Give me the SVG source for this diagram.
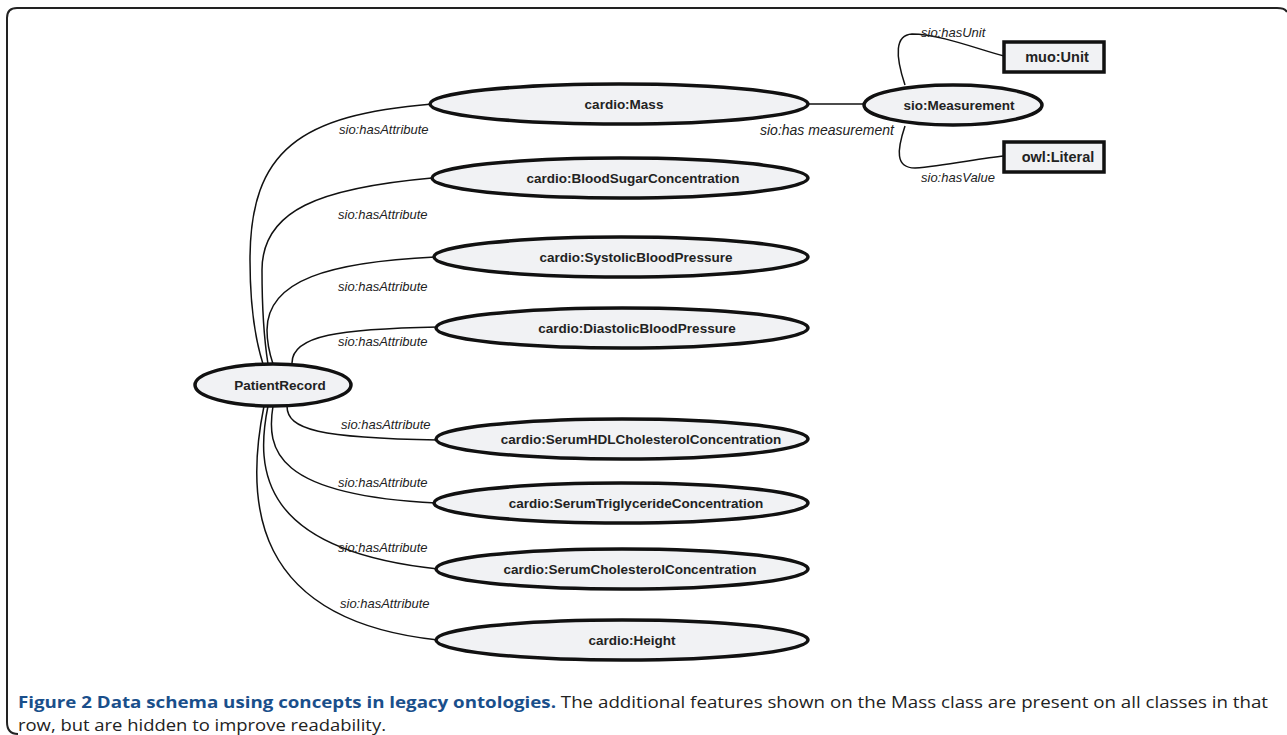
<svg xmlns="http://www.w3.org/2000/svg" width="1287" height="735" viewBox="0 0 1287 735">
<style>
.node ellipse{fill:#f1f2f4;stroke:#111;stroke-width:3.5}
.node rect{fill:#f1f2f4;stroke:#111;stroke-width:3.5}
.nl{font-family:"Liberation Sans",Arial,sans-serif;font-weight:bold;font-size:13.5px;fill:#222;text-anchor:middle;dominant-baseline:central}
.bl{font-family:"Liberation Sans",Arial,sans-serif;font-weight:bold;font-size:14.5px;fill:#222;text-anchor:middle;dominant-baseline:central}
.el{font-family:"Liberation Sans",Arial,sans-serif;font-style:italic;font-size:13px;fill:#222}
#edges path{fill:none;stroke:#111;stroke-width:1.5}
.cap{font-family:"Open Sans","Noto Sans",sans-serif;font-size:16px;fill:#222}
</style>
<rect width="1287" height="735" fill="#fff"/>
<path d="M18,734 Q7,734 7,722 L7,18 Q7,8 17,8 L1277,8 Q1285,8 1287,12" fill="none" stroke="#222" stroke-width="2"/>

<g id="edges">
<path d="M432,104 C300,115 250,150 250,260 C250,310 257,345 263,364"/>
<path d="M432,178 C320,188 262,210 262,270 C262,320 265,345 268,364"/>
<path d="M435,257 C330,262 267,280 267,330 C267,345 270,355 273,364"/>
<path d="M438,327 C340,329 292,335 292,363"/>
<path d="M287,406 C287,430 320,438 438,440"/>
<path d="M273,406 C266,450 275,495 436,503"/>
<path d="M268,406 C255,470 260,550 438,569"/>
<path d="M264,406 C245,500 250,620 438,640"/>
<path d="M808,104 L864,104"/>
<path d="M905,85 C895,55 895,35 912,34 C940,34 980,50 1004,56"/>
<path d="M905,126 C897,150 895,168 915,168 C945,166 980,158 1004,156"/>
</g>

<g id="edge-labels">
<text class="el" x="339" y="134">sio:hasAttribute</text>
<text class="el" x="338" y="219">sio:hasAttribute</text>
<text class="el" x="338" y="291">sio:hasAttribute</text>
<text class="el" x="338" y="346">sio:hasAttribute</text>
<text class="el" x="341" y="429">sio:hasAttribute</text>
<text class="el" x="338" y="487">sio:hasAttribute</text>
<text class="el" x="338" y="552">sio:hasAttribute</text>
<text class="el" x="340" y="608">sio:hasAttribute</text>
<text class="el" x="760" y="135" style="font-size:14px">sio:has measurement</text>
<text class="el" x="921" y="37">sio:hasUnit</text>
<text class="el" x="921" y="182">sio:hasValue</text>
</g>

<g id="n-mass" class="node"><ellipse cx="619" cy="104" rx="189" ry="20"/><text class="nl" x="624" y="104">cardio:Mass</text></g>
<g id="n-bloodsugar" class="node"><ellipse cx="620" cy="178" rx="188" ry="20"/><text class="nl" x="633" y="178">cardio:BloodSugarConcentration</text></g>
<g id="n-systolic" class="node"><ellipse cx="621" cy="257" rx="187" ry="20"/><text class="nl" x="636" y="257">cardio:SystolicBloodPressure</text></g>
<g id="n-diastolic" class="node"><ellipse cx="622" cy="328" rx="186" ry="20"/><text class="nl" x="637" y="328">cardio:DiastolicBloodPressure</text></g>
<g id="n-patient" class="node"><ellipse cx="273" cy="385" rx="78" ry="21"/><text class="nl" x="280" y="385">PatientRecord</text></g>
<g id="n-hdl" class="node"><ellipse cx="622" cy="439" rx="186" ry="20"/><text class="nl" x="641" y="439">cardio:SerumHDLCholesterolConcentration</text></g>
<g id="n-trig" class="node"><ellipse cx="621" cy="503" rx="187" ry="20"/><text class="nl" x="636" y="503">cardio:SerumTriglycerideConcentration</text></g>
<g id="n-chol" class="node"><ellipse cx="622" cy="569" rx="186" ry="20"/><text class="nl" x="630" y="569">cardio:SerumCholesterolConcentration</text></g>
<g id="n-height" class="node"><ellipse cx="622" cy="640" rx="186" ry="20"/><text class="nl" x="632" y="640">cardio:Height</text></g>
<g id="n-measurement" class="node"><ellipse cx="953" cy="105" rx="89" ry="20"/><text class="nl" x="959" y="105">sio:Measurement</text></g>
<g id="n-unit" class="node"><rect x="1004" y="42" width="100" height="30"/><text class="bl" x="1057" y="57">muo:Unit</text></g>
<g id="n-literal" class="node"><rect x="1004" y="142" width="100" height="30"/><text class="bl" x="1058" y="157">owl:Literal</text></g>

<text class="cap" x="18" y="708" textLength="1250" lengthAdjust="spacingAndGlyphs"><tspan font-weight="bold" fill="#1a4f8b">Figure 2 Data schema using concepts in legacy ontologies.</tspan> The additional features shown on the Mass class are present on all classes in that</text>
<text class="cap" x="18" y="731" textLength="368" lengthAdjust="spacingAndGlyphs">row, but are hidden to improve readability.</text>
</svg>
